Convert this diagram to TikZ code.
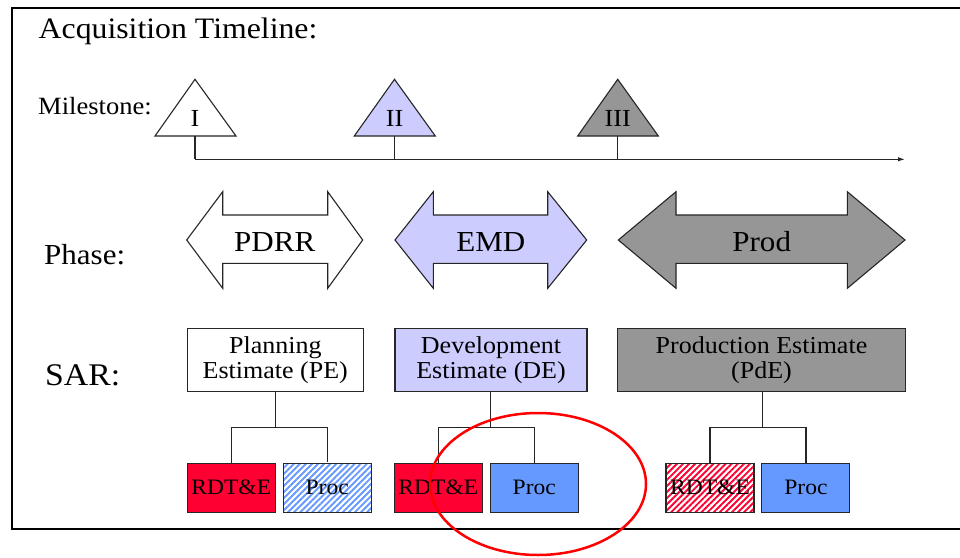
\documentclass[tikz,border=0pt]{standalone}
\usepackage{fontspec}
\setmainfont[FakeStretch=1.07]{Liberation Serif}
\usetikzlibrary{arrows.meta,patterns.meta}
\definecolor{lav}{HTML}{CCCCFF}
\definecolor{gry}{HTML}{969696}
\definecolor{rdte}{HTML}{FF0033}
\definecolor{procb}{HTML}{6699FF}
\begin{document}
\begin{tikzpicture}[x=1pt,y=-1pt,
  ln/.style={draw=black!85, line width=1.2pt},
  shapeline/.style={draw=black!85, line width=1.1pt, line join=miter},
  est/.style={shapeline, minimum height=63.4pt, align=center, inner sep=0pt,
    font=\fontsize{24.3}{25}\selectfont},
  sub/.style={shapeline, minimum width=88pt, minimum height=48.7pt, inner sep=0pt,
    font=\fontsize{22}{24}\selectfont},
  lbl/.style={inner sep=0pt, anchor=base west},
  ms/.style={inner sep=0pt, anchor=base, font=\fontsize{24.5}{26}\selectfont},
  ph/.style={inner sep=0pt, anchor=base, font=\fontsize{29}{30}\selectfont},
  hatchblue/.style={pattern={Lines[angle=45,distance=4.3pt,line width=1.9pt]}, pattern color=procb},
  hatchred/.style={pattern={Lines[angle=45,distance=4.3pt,line width=1.9pt]}, pattern color=rdte}
]
\useasboundingbox (0,0) rectangle (960,557);
\fill[white] (0,0) rectangle (960,557);

% frame (open on the right)
\draw[line width=2pt] (960,7.5) -- (12,7.5) -- (12,529.3) -- (960,529.3);

% left labels
\node[lbl, font=\fontsize{29.7}{32}\selectfont] (title) at (38.5,38.3) {Acquisition Timeline:};
\node[lbl, font=\fontsize{24.8}{27}\selectfont] (mslbl) at (38,114.7) {Milestone:};
\node[lbl, font=\fontsize{29}{31}\selectfont] (phlbl) at (44,264) {Phase:};
\node[lbl, font=\fontsize{31.5}{33}\selectfont] (sarlbl) at (45,385) {SAR:};

% milestones
\draw[shapeline, fill=white] (195,79.3) -- (236,136) -- (155,136) -- cycle;
\draw[shapeline, fill=lav] (394.5,79.3) -- (435.3,136) -- (354.3,136) -- cycle;
\draw[shapeline, fill=gry] (617.7,79.3) -- (658.3,136) -- (577.7,136) -- cycle;
\coordinate (m1) at (195,136);
\coordinate (m2) at (394.5,136);
\coordinate (m3) at (617.7,136);
\coordinate (tl0) at (195,159.3);
\coordinate (tlend) at (905,159.3);
\node[ms] (t1) at (195,126) {I};
\node[ms] (t2) at (394.5,126) {II};
\node[ms] (t3) at (617.7,126) {III};
\draw[ln] (m1) -- (tl0);
\draw[ln, -{Latex[length=7pt,width=4.5pt]}] (tl0) -- (tlend);
\draw[ln] (m2) -- (m2 |- tl0);
\draw[ln] (m3) -- (m3 |- tl0);

% phase arrows
\draw[shapeline, fill=white] (186.7,240) -- (222.7,191.7) -- (222.7,215) -- (327.7,215) -- (327.7,191.7)
  -- (362.7,240) -- (327.7,288.3) -- (327.7,263.3) -- (222.7,263.3) -- (222.7,288.3) -- cycle;
\draw[shapeline, fill=lav] (395,240) -- (433.3,191.7) -- (433.3,215) -- (547.7,215) -- (547.7,191.7)
  -- (586.7,240) -- (547.7,288.3) -- (547.7,263.3) -- (433.3,263.3) -- (433.3,288.3) -- cycle;
\draw[shapeline, fill=gry] (618.3,240) -- (676,191.7) -- (676,215) -- (847.3,215) -- (847.3,191.7)
  -- (905,240) -- (847.3,288.3) -- (847.3,263.3) -- (676,263.3) -- (676,288.3) -- cycle;
\node[ph] (pdrr) at (274.7,251.8) {PDRR};
\node[ph] (emd) at (490.8,251.8) {EMD};
\node[ph] (prod) at (761.7,251.8) {Prod};

% SAR estimates
\node[est, fill=white, minimum width=176pt] (pe) at (275.3,360) {Planning\\Estimate (PE)};
\node[est, fill=lav, minimum width=192pt] (de) at (491,360) {Development\\Estimate (DE)};
\node[est, fill=gry, minimum width=288.4pt] (pde) at (761.5,360) {Production Estimate\\(PdE)};

% sub boxes
\node[sub, fill=rdte] (r1) at (231.3,487.7) {RDT\&E};
\node[sub, hatchblue] (p1) at (327.2,487.7) {Proc};
\node[sub, fill=rdte] (r2) at (438.3,487.7) {RDT\&E};
\node[sub, fill=procb] (p2) at (534.3,487.7) {Proc};
\node[sub, hatchred] (r3) at (710,487.7) {RDT\&E};
\node[sub, fill=procb] (p3) at (805.9,487.7) {Proc};

% tree connectors
\coordinate (j1) at (275.3,427.3);
\coordinate (j2) at (490.7,427.3);
\coordinate (j3) at (762.3,427.3);
\draw[ln] (pe.south) -- (j1);
\draw[ln] (r1.north) |- (j1) -| (p1.north);
\draw[ln] (de.south -| j2) -- (j2);
\draw[ln] (r2.north) |- (j2) -| (p2.north);
\draw[ln] (pde.south -| j3) -- (j3);
\draw[ln] (r3.north) |- (j3) -| (p3.north);

% red highlight ellipse
\draw[red, line width=2.5pt] (538,484) ellipse [x radius=108, y radius=71];
\end{tikzpicture}
\end{document}
